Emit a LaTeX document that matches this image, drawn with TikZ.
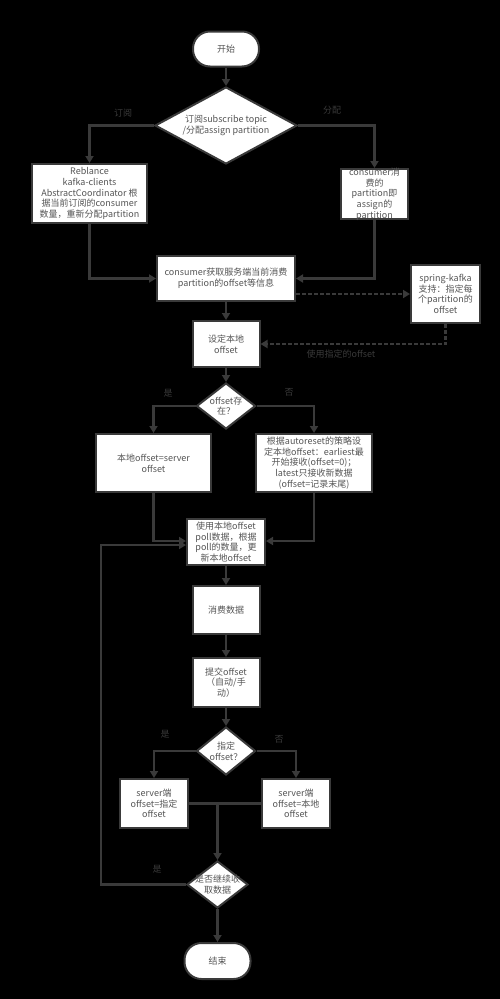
\documentclass[tikz,border=0pt]{standalone}
\usepackage{fontspec}
\setmainfont{Noto Sans CJK SC}
\usetikzlibrary{arrows.meta,shapes.geometric}
\definecolor{linegray}{RGB}{58,58,58}
\definecolor{textgray}{RGB}{85,85,85}

\begin{document}
\begin{tikzpicture}[x=1pt,y=-1pt,
font=\fontsize{9}{10.7}\selectfont,
box/.style={rectangle,draw=linegray,line width=2pt,fill=white,text=textgray,align=center,inner sep=1pt},
term/.style={box,rounded corners=17pt,minimum width=66pt,minimum height=35pt},
decision/.style={diamond,draw=linegray,line width=2pt,fill=white,inner sep=0pt},
dtext/.style={align=center,text=textgray},
edge/.style={draw=linegray,line width=2.5pt,-{Triangle[width=8pt,length=7pt]}},
dashedge/.style={edge,dash pattern=on 4pt off 2pt},
lbl/.style={text=linegray}]
\fill[black] (0,0) rectangle (500,999);
% Start and subscription mode
\node[term] (start) at (226,49) {开始};
\node[decision,minimum width=142pt,minimum height=77pt,
  label={[dtext]center:{订阅subscribe topic\\/分配assign partition}}] (mode) at (226,125.5) {};
\node[box,minimum width=115pt,minimum height=59pt] (rebal) at (89.5,193.5)
  {Reblance\\kafka-clients\\AbstractCoordinator 根\\据当前订阅的consumer\\数量，重新分配partition};
\node[box,minimum width=67pt,minimum height=50pt,
  label={[dtext]center:{consumer消\\费的\\partition即\\assign的\\partition}}] (assigned) at (374.5,194) {};
\node[box,minimum width=138pt,minimum height=45pt] (fetch) at (226,278.5)
  {consumer获取服务端当前消费\\partition的offset等信息};
\node[box,minimum width=69pt,minimum height=58pt] (spring) at (445.5,294)
  {spring-kafka\\支持：指定每\\个partition的\\offset};
\node[box,minimum width=67pt,minimum height=46pt] (setlocal) at (226,344) {设定本地\\offset};
% Local offset
\node[decision,minimum width=59pt,minimum height=46pt,
  label={[dtext]center:{offset存\\在？}}] (exists) at (226,406) {};
\node[box,minimum width=115pt,minimum height=58pt] (local) at (153.5,463) {本地offset=server\\offset};
\node[box,minimum width=116pt,minimum height=58pt] (reset) at (314,463)
  {根据autoreset的策略设\\定本地offset：earliest最\\开始接收(offset=0)；\\latest只接收新数据\\(offset=记录末尾)};
\node[box,minimum width=78pt,minimum height=46pt] (poll) at (226,542)
  {使用本地offset\\poll数据，根据\\poll的数量，更\\新本地offset};
\node[box,minimum width=67pt,minimum height=48pt] (consume) at (226,610) {消费数据};
\node[box,minimum width=67pt,minimum height=49pt] (commit) at (226,682.5) {提交offset\\（自动/手\\动）};
% Commit
\node[decision,minimum width=59pt,minimum height=48pt,
  label={[dtext]center:{指定\\offset？}}] (specified) at (226,751) {};
\node[box,minimum width=68pt,minimum height=49pt] (srvset) at (154,803.5) {server端\\offset=指定\\offset};
\node[box,minimum width=68pt,minimum height=49pt] (srvloc) at (296,803.5) {server端\\offset=本地\\offset};
\coordinate (merge) at (217.5,803.5);
\node[decision,minimum width=61pt,minimum height=47pt,
  label={[dtext]center:{是否继续收\\取数据}}] (more) at (217.5,884.5) {};
\node[term,minimum height=36pt] (end) at (217.5,961) {结束};
% Connectors
\draw[edge] (start) -- (mode);
\draw[edge] (mode.west) -| (rebal.north);
\draw[edge] (mode.east) -| (assigned.north);
\draw[edge] (rebal.south) |- (fetch.west);
\draw[edge] (assigned.south) |- (fetch.east);
\draw[dashedge] (fetch.east |- spring.west) -- (spring.west);
\draw[dashedge] (spring.south) |- (setlocal.east);
\draw[edge] (fetch) -- (setlocal);
\draw[edge] (setlocal) -- (exists);
\draw[edge] (exists.west) -| (local.north);
\draw[edge] (exists.east) -| (reset.north);
\draw[edge] (local.south) |- ([yshift=1pt]poll.west);
\draw[edge] (reset.south) |- ([yshift=1pt]poll.east);
\draw[edge] (poll) -- (consume);
\draw[edge] (consume) -- (commit);
\draw[edge] (commit) -- (specified);
\draw[edge] (specified.west) -| (srvset.north);
\draw[edge] (specified.east) -| (srvloc.north);
\draw[edge,-] (srvset.east) -- (srvloc.west);
\draw[edge] (merge) -- (more.north);
\draw[edge] (more.west) -- ++(-85,0) |- ([yshift=-3pt]poll.west);
\draw[edge] (more) -- (end);
% Edge labels
\node[lbl] (lsub) at (123,113) {订阅};
\node[lbl] (lasg) at (332,110) {分配};
\node[lbl] (luse) at (341,354) {使用指定的offset};
\node[lbl] (lyes1) at (168,393) {是};
\node[lbl] (lno1) at (289,392) {否};
\node[lbl] (lyes2) at (165,734) {是};
\node[lbl] (lno2) at (279,739) {否};
\node[lbl] (lyes3) at (157,869) {是};
\end{tikzpicture}
\end{document}
